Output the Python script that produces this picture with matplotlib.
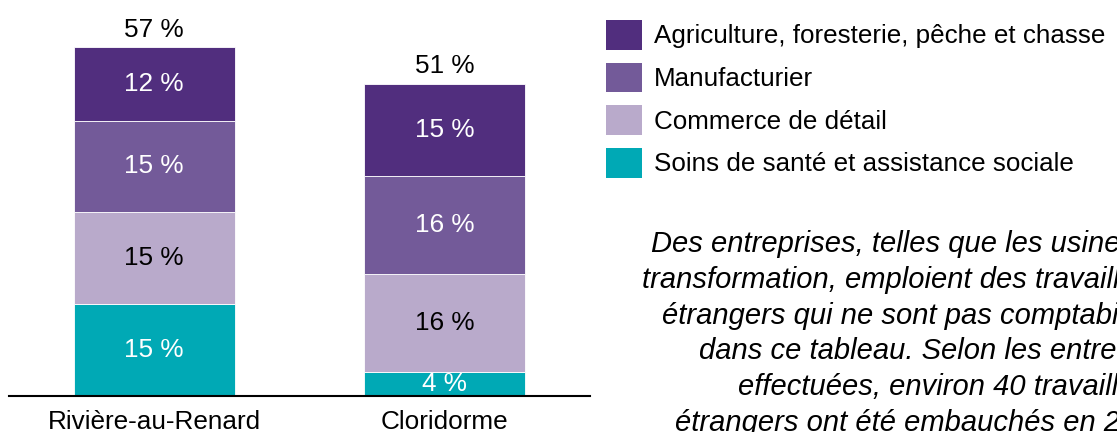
import matplotlib
matplotlib.use("Agg")
import matplotlib.pyplot as plt
from matplotlib.patches import Patch

# ---- data ----
categories = ["Rivière-au-Renard", "Cloridorme"]
soins = [15, 4]
commerce = [15, 16]
manufacturier = [15, 16]
agriculture = [12, 15]
totals = [57, 51]
sector_names = ["Soins de santé et assistance sociale", "Commerce de détail",
                "Manufacturier", "Agriculture, foresterie, pêche et chasse"]
note_lines = [
    "Des entreprises, telles que les usines de",
    "transformation, emploient des travailleurs",
    "étrangers qui ne sont pas comptabilisés",
    "dans ce tableau. Selon les entrevues",
    "effectuées, environ 40 travailleurs",
    "étrangers ont été embauchés en 2019.",
]

colors = ["#00A9B5", "#B9AACB", "#735A99", "#512E7E"]
text_colors = ["white", "black", "white", "white"]

W, H = 1117, 432
FS = 18.8
plt.rcParams['font.family'] = ['Liberation Sans', 'DejaVu Sans']
fig = plt.figure(figsize=(W / 100, H / 100), dpi=100)
ax = fig.add_axes([9 / W, 36 / H, 581 / W, 396 / H])

x = list(range(len(categories)))
bottoms = [0] * len(categories)
series = [soins, commerce, manufacturier, agriculture]
for vals, col, tc in zip(series, colors, text_colors):
    bars = ax.bar(x, vals, width=0.554, bottom=bottoms, color=col,
                  edgecolor="white", linewidth=0.6)
    ax.bar_label(bars, labels=[f"{v} %" for v in vals], label_type="center",
                 color=tc, fontsize=FS)
    bottoms = [b + v for b, v in zip(bottoms, vals)]

for xi, t in zip(x, totals):
    ax.annotate(f"{t} %", (xi, t), xytext=(0, 12.5), textcoords="offset points",
                ha="center", va="center", fontsize=FS, color="black")

ax.set_xlim(-0.5, 1.5)
ax.set_ylim(0, 64.7)
ax.set_xticks(x)
ax.set_xticklabels(categories)
ax.set_yticks([])
ax.tick_params(axis="x", length=0, pad=10, labelsize=FS)
for s in ["top", "left", "right"]:
    ax.spines[s].set_visible(False)
ax.spines["bottom"].set_linewidth(1.5)
ax.spines["bottom"].set_color("black")
ax.patch.set_alpha(0)

handles = [Patch(facecolor=c, edgecolor="none") for c in colors][::-1]
fig.legend(handles, sector_names[::-1], loc="upper left",
           bbox_to_anchor=(606 / W, 1 - 20 / H), frameon=False, fontsize=18.7,
           handlelength=1.4, handleheight=1.38, handletextpad=0.45,
           labelspacing=0.5, borderpad=0, borderaxespad=0)

starts = [651, 642, 662, 699, 738, 675]
for i, (line, xs) in enumerate(zip(note_lines, starts)):
    yb = 252 + i * 35.8
    fig.text(xs / W, 1 - yb / H, line, fontsize=21, style="italic",
             ha="left", va="baseline", color="black")

fig.savefig("out.png", dpi=100)
